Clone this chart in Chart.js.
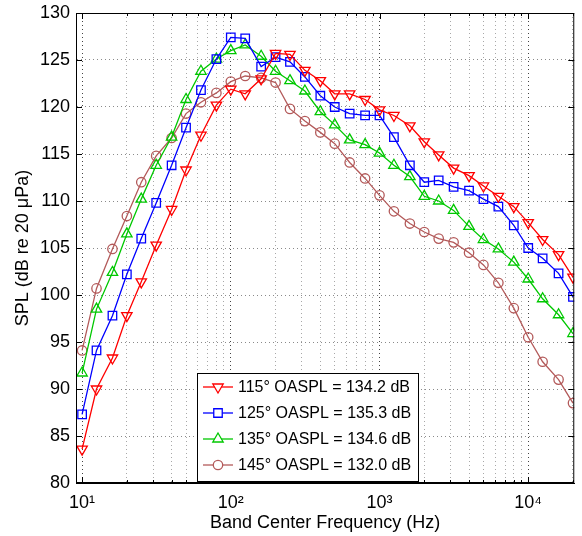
<!DOCTYPE html>
<html>
<head>
<meta charset="utf-8">
<script src="https://cdn.jsdelivr.net/npm/chart.js@4/dist/chart.umd.min.js"></script>
<style>
  html, body { margin: 0; padding: 0; background: #fff; }
  #wrap { width: 582px; height: 536px; }
</style>
</head>
<body>
<div id="wrap"><canvas id="splChart"></canvas></div>
<script>
// third-octave band centres (Hz)
const bandFreqs = [10, 12.5, 16, 20, 25, 31.5, 40, 50, 63, 80, 100, 125, 160, 200, 250, 315, 400, 500,
    630, 800, 1000, 1250, 1600, 2000, 2500, 3150, 4000, 5000, 6300, 8000, 10000, 12500, 16000, 20000];

const spl115 = [83.6, 90.0, 93.3, 97.8, 101.4, 105.3, 109.1, 113.3, 117.0, 120.2, 121.9, 121.4, 123.0, 125.7,
    125.6, 123.9, 122.8, 121.4, 121.4, 120.8, 119.7, 119.1, 118.0, 116.3, 114.9, 113.5, 112.7, 111.6,
    110.5, 109.4, 107.7, 105.9, 104.3, 101.9];
const spl125 = [87.3, 94.1, 97.8, 102.2, 106.0, 109.8, 113.8, 117.8, 121.8, 125.1, 127.4, 127.3, 124.3, 125.3,
    124.8, 123.2, 121.2, 120.0, 119.3, 119.1, 119.1, 116.8, 113.8, 112.0, 112.2, 111.5, 111.1, 110.2,
    109.4, 107.4, 105.0, 103.9, 102.3, 99.8];
const spl135 = [91.7, 98.5, 102.4, 106.5, 110.2, 113.8, 116.8, 120.8, 123.8, 125.1, 126.0, 126.6, 125.4, 123.8,
    122.8, 121.7, 119.5, 118.1, 116.5, 116.0, 115.1, 113.8, 112.6, 110.5, 110.0, 109.0, 107.3, 105.9,
    104.9, 103.5, 101.7, 99.6, 97.9, 95.9];
const spl145 = [94.1, 100.7, 104.9, 108.4, 112.0, 114.8, 116.7, 119.3, 120.5, 121.5, 122.7, 123.3, 123.1, 122.6,
    119.8, 118.5, 117.3, 116.1, 114.1, 112.4, 110.6, 108.9, 107.6, 106.7, 106.0, 105.6, 104.5, 103.2,
    101.3, 98.6, 95.5, 92.9, 91.0, 88.5];

const seriesLabels = ['115° OASPL = 134.2 dB', '125° OASPL = 135.3 dB', '135° OASPL = 134.6 dB', '145° OASPL = 132.0 dB'];

// x grid / tick positions: 1..9 x each decade
const xTickValues = [10, 20, 30, 40, 50, 60, 70, 80, 90, 100, 200, 300, 400, 500, 600, 700, 800, 900,
    1000, 2000, 3000, 4000, 5000, 6000, 7000, 8000, 9000, 10000, 20000];
const decadeLabels = { 10: '10¹', 100: '10²', 1000: '10³', 10000: '10⁴' };
const yTicks = [80, 85, 90, 95, 100, 105, 110, 115, 120, 125, 130];

const FONT = 'Liberation Sans, Arial, Helvetica, sans-serif';

function makeSeries(label, values, color, style, rotation, radius) {
    return {
        label,
        data: bandFreqs.map((f, i) => ({ x: f, y: values[i] })),
        borderColor: color,
        backgroundColor: 'transparent',
        pointBorderColor: color,
        pointBackgroundColor: 'transparent',
        pointStyle: style,
        rotation,
        pointRadius: radius,
        pointBorderWidth: 1.3,
        borderWidth: 1.3,
        tension: 0
    };
}

// MATLAB-like box, inward ticks and inset legend
const boxPlugin = {
    id: 'boxPlugin',
    afterDraw(chart) {
        const { ctx, chartArea: a, scales } = chart;
        ctx.save();
        ctx.strokeStyle = '#000';
        ctx.lineWidth = 1;
        ctx.strokeRect(a.left + 0.5, a.top + 0.5, a.right - a.left - 1, a.bottom - a.top - 1);

        ctx.beginPath();
        scales.x.ticks.forEach(t => {
            const px = Math.round(scales.x.getPixelForValue(t.value)) + 0.5;
            const len = decadeLabels[t.value] ? 6 : 3;
            ctx.moveTo(px, a.bottom); ctx.lineTo(px, a.bottom - len);
            ctx.moveTo(px, a.top); ctx.lineTo(px, a.top + len);
        });
        scales.y.ticks.forEach(t => {
            const py = Math.round(scales.y.getPixelForValue(t.value)) + 0.5;
            ctx.moveTo(a.left, py); ctx.lineTo(a.left + 6, py);
            ctx.moveTo(a.right, py); ctx.lineTo(a.right - 6, py);
        });
        ctx.stroke();

        // legend box
        const bx = 197, by = 373, bw = 221, bh = 108, rowH = 26;
        ctx.fillStyle = '#fff';
        ctx.fillRect(bx, by, bw, bh);
        ctx.strokeRect(bx + 0.5, by + 0.5, bw, bh);
        ctx.font = '16px ' + FONT;
        ctx.textBaseline = 'middle';
        chart.data.datasets.forEach((ds, i) => {
            const cy = by + 14 + i * rowH;
            ctx.strokeStyle = ds.borderColor;
            ctx.lineWidth = ds.borderWidth;
            ctx.beginPath();
            ctx.moveTo(bx + 6, cy); ctx.lineTo(bx + 36, cy);
            ctx.stroke();
            ctx.fillStyle = '#fff';
            Chart.helpers.drawPoint(ctx, {
                pointStyle: ds.pointStyle, rotation: ds.rotation, radius: ds.pointRadius, borderWidth: ds.pointBorderWidth
            }, bx + 21, cy);
            ctx.fillStyle = '#000';
            ctx.fillText(ds.label, bx + 41, cy + 1);
        });
        ctx.restore();
    }
};

new Chart(document.getElementById('splChart'), {
    type: 'line',
    data: {
        datasets: [
            makeSeries(seriesLabels[0], spl115, '#ff0000', 'triangle', 180, 6),
            makeSeries(seriesLabels[1], spl125, '#0000ff', 'rect', 0, 6),
            makeSeries(seriesLabels[2], spl135, '#00c800', 'triangle', 0, 6),
            makeSeries(seriesLabels[3], spl145, '#b35a5a', 'circle', 0, 4.7)
        ]
    },
    options: {
        responsive: true,
        maintainAspectRatio: false,
        animation: false,
        layout: { padding: { top: 13, right: 0, bottom: 0, left: 0 } },
        plugins: {
            legend: { display: false },
            tooltip: { enabled: false }
        },
        scales: {
            x: {
                type: 'logarithmic',
                min: 9.1,
                max: 20400,
                afterBuildTicks: scale => { scale.ticks = xTickValues.map(v => ({ value: v })); },
                afterFit: scale => { scale.height = 53; },
                ticks: {
                    autoSkip: false,
                    maxRotation: 0,
                    padding: 9,
                    color: '#000',
                    font: { family: FONT, size: 18 },
                    callback: value => decadeLabels[value] || ''
                },
                grid: {
                    drawTicks: false,
                    color: ctx => (ctx.tick && decadeLabels[ctx.tick.value]) ? '#444' : '#a8a8a8',
                    lineWidth: 1
                },
                border: { display: true, color: '#000', dash: [1, 3] },
                title: {
                    display: true,
                    text: 'Band Center Frequency (Hz)',
                    color: '#000',
                    font: { family: FONT, size: 18 },
                    padding: { top: 2, bottom: 2 }
                }
            },
            y: {
                type: 'linear',
                min: 80,
                max: 130,
                afterBuildTicks: scale => { scale.ticks = yTicks.map(v => ({ value: v })); },
                afterFit: scale => {
                    scale.width = 76;
                    scale.paddingTop = 0;
                    scale.paddingBottom = 0;
                },
                ticks: {
                    padding: 6,
                    color: '#000',
                    font: { family: FONT, size: 18 }
                },
                grid: {
                    drawTicks: false,
                    color: '#8a8a8a',
                    lineWidth: 1
                },
                border: { display: true, color: '#000', dash: [1, 3] },
                title: {
                    display: true,
                    text: 'SPL (dB re 20 μPa)',
                    color: '#000',
                    font: { family: FONT, size: 18 },
                    padding: { top: 12, bottom: 0 }
                }
            }
        }
    },
    plugins: [boxPlugin]
});
</script>
</body>
</html>
